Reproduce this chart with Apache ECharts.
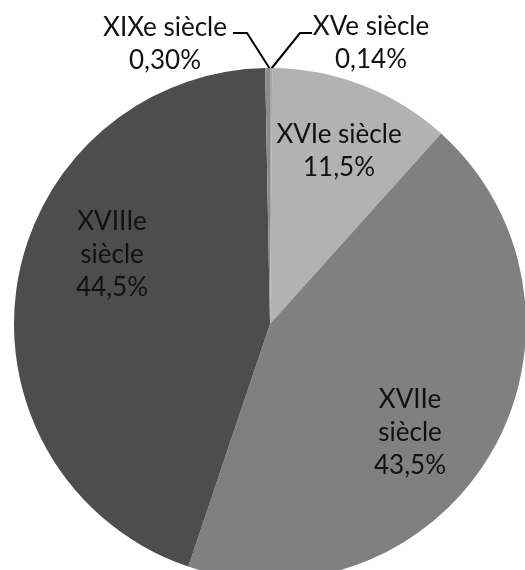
<!DOCTYPE html>
<html>
<head>
<meta charset="utf-8">
<script src="https://cdn.jsdelivr.net/npm/echarts@6/dist/echarts.min.js"></script>
<style>html,body{margin:0;padding:0;background:#fff}#c{width:525px;height:570px}</style>
</head>
<body>
<div id="c"></div>
<script>
// Data
const categories = ['XVe siècle', 'XVIe siècle', 'XVIIe siècle', 'XVIIIe siècle', 'XIXe siècle'];
const values = [0.14, 11.5, 43.5, 44.5, 0.30];
const valueLabels = ['0,14%', '11,5%', '43,5%', '44,5%', '0,30%'];

// Styles / layout (not data)
const colors = ['#a6a6a6', '#b2b2b2', '#808080', '#4d4d4d', '#8c8c8c'];
const wrapName = [false, false, true, true, false];
const outside = [true, false, false, false, true];
const labelPos = [[371, 43], [339, 151], [410, 433], [112, 255], [165, 44]];
const linePts = [
  [[271, 69], [300, 33], [312, 33]],
  null, null, null,
  [[270, 69], [247, 33], [233, 33]]
];

const chart = echarts.init(document.getElementById('c'), null, {renderer: 'canvas'});
const data = categories.map((n, i) => ({
  name: n,
  value: values[i],
  itemStyle: {color: colors[i]},
  label: {position: outside[i] ? 'outside' : 'inside'},
  labelLine: {show: outside[i]}
}));

chart.setOption({
  animation: false,
  series: [{
    type: 'pie',
    center: [270, 324],
    radius: 256,
    startAngle: 90,
    clockwise: true,
    avoidLabelOverlap: false,
    data: data,
    itemStyle: {borderWidth: 0},
    label: {
      show: true,
      fontFamily: 'Lato',
      fontSize: 26,
      lineHeight: 33,
      color: '#111',
      align: 'center',
      formatter: p => (wrapName[p.dataIndex] ? p.name.replace(' ', '\n') : p.name) + '\n' + valueLabels[p.dataIndex]
    },
    labelLine: {
      lineStyle: {color: '#000', width: 2}
    },
    labelLayout: p => {
      const i = p.dataIndex;
      const o = {x: labelPos[i][0], y: labelPos[i][1], align: 'center', verticalAlign: 'middle'};
      if (linePts[i]) o.labelLinePoints = linePts[i];
      return o;
    }
  }]
});
</script>
</body>
</html>
